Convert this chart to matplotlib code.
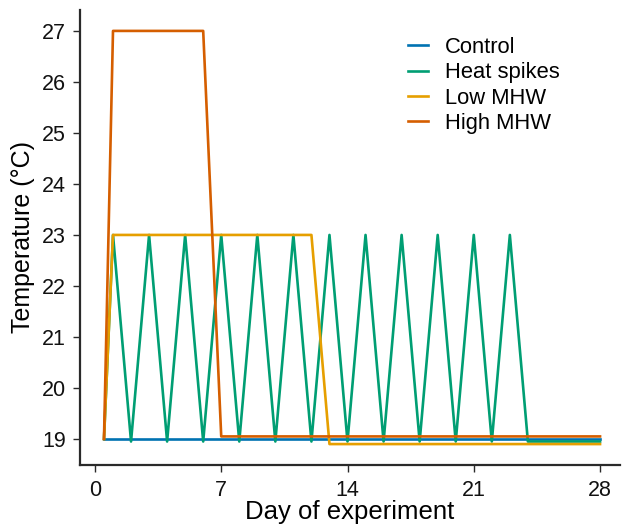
import numpy as np
import matplotlib.pyplot as plt

plt.rcParams['font.family'] = ['Liberation Sans', 'DejaVu Sans']

# day / temperature series
control_day = [0.5, 28]
control_temp = [19.0, 19.0]

spike_day = [0.5] + list(range(1, 25)) + [28]
spike_temp = [19.0] + [23.0 if d % 2 else 18.95 for d in range(1, 25)] + [18.95]

low_day = [0.5, 1, 12, 13, 28]
low_temp = [19.0, 23.0, 23.0, 18.9, 18.9]

high_day = [0.5, 1, 6, 7, 28]
high_temp = [19.0, 27.0, 27.0, 19.05, 19.05]

xticks = [0, 7, 14, 21, 28]
yticks = [19, 20, 21, 22, 23, 24, 25, 26, 27]

fig = plt.figure(figsize=(6.22, 5.26), dpi=100)
ax = fig.add_axes([0.1286, 0.116, 0.868, 0.865])

lw = 1.9
ax.plot(control_day, control_temp, color='#0072B2', lw=lw, label='Control')
ax.plot(spike_day, spike_temp, color='#009E73', lw=lw, label='Heat spikes')
ax.plot(low_day, low_temp, color='#E69F00', lw=lw, label='Low MHW')
ax.plot(high_day, high_temp, color='#D55E00', lw=lw, label='High MHW')

ax.set_xlim(-0.83, 29.1)
ax.set_ylim(18.49, 27.41)
ax.set_xticks(xticks)
ax.set_yticks(yticks)

for s in ['top', 'right']:
    ax.spines[s].set_visible(False)
for s in ['left', 'bottom']:
    ax.spines[s].set_linewidth(1.6)
    ax.spines[s].set_color('#2a2a2a')
ax.tick_params(length=5, width=1, colors='#2a2a2a', labelsize=15.5, labelcolor='#111111')
ax.tick_params(axis='x', pad=6)
ax.tick_params(axis='y', pad=5)

ax.set_xlabel('Day of experiment', fontsize=18.5, labelpad=-1)
ax.set_ylabel('Temperature (°C)', fontsize=18, labelpad=5)

ax.legend(loc='upper left', bbox_to_anchor=(0.592, 0.96), frameon=False, fontsize=15.8,
          handlelength=0.9, handletextpad=0.75, labelspacing=0.2, borderaxespad=0)

fig.savefig('out.png', dpi=100)
